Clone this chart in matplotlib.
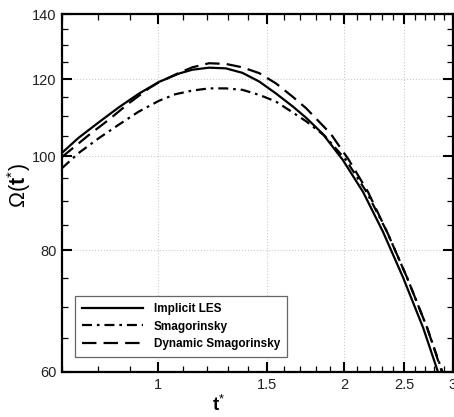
import numpy as np
import matplotlib
matplotlib.use('Agg')
import matplotlib.pyplot as plt
from matplotlib.ticker import FixedLocator, NullFormatter

plt.rcParams['font.family'] = ['Liberation Sans', 'DejaVu Sans']
plt.rcParams['mathtext.fontset'] = 'custom'
plt.rcParams['mathtext.rm'] = 'Liberation Sans'
plt.rcParams['mathtext.bf'] = 'Liberation Sans:bold'

# values (t*, Omega)
t_les = [0.70, 0.744, 0.802, 0.864, 0.931, 1.004, 1.082, 1.137, 1.210, 1.288, 1.370,
         1.459, 1.552, 1.652, 1.737, 1.848, 1.991, 2.146, 2.312, 2.492, 2.685, 2.837]
om_les = [100.8, 104.4, 108.3, 112.2, 115.9, 119.2, 121.6, 122.7, 123.3, 123.1, 121.8,
          119.3, 116.0, 112.5, 109.5, 105.4, 99.1, 91.9, 83.6, 75.0, 66.6, 60.0]

t_smag = [0.70, 0.744, 0.802, 0.864, 0.931, 1.004, 1.068, 1.137, 1.210, 1.288, 1.370,
          1.459, 1.552, 1.652, 1.737, 1.862, 2.014, 2.174, 2.347, 2.529, 2.725, 2.885]
om_smag = [97.2, 100.7, 104.3, 107.7, 111.1, 114.0, 115.8, 116.8, 117.4, 117.4, 117.0,
           115.6, 113.8, 110.9, 108.6, 104.9, 99.1, 91.9, 83.6, 75.0, 66.6, 60.0]

t_dyn = [0.70, 0.773, 0.833, 0.897, 0.967, 1.004, 1.082, 1.137, 1.210, 1.288, 1.370,
         1.459, 1.552, 1.652, 1.737, 1.904, 2.036, 2.186, 2.347, 2.529, 2.725, 2.879]
om_dyn = [99.8, 105.1, 109.0, 113.3, 117.4, 119.1, 121.8, 123.4, 124.6, 124.4, 123.4,
          121.7, 118.8, 115.1, 112.0, 105.4, 99.1, 91.9, 83.6, 75.0, 66.6, 60.0]

x_major = [1, 1.5, 2, 2.5, 3]
x_labels = ['1', '1.5', '2', '2.5', '3']
y_major = [60, 80, 100, 120, 140]

fig = plt.figure(figsize=(4.54, 4.17), dpi=100)
ax = fig.add_axes([62/454, 45/417, 391/454, 358/417])

ax.plot(t_les, om_les, color='black', lw=1.6, label='Implicit LES')
ax.plot(t_smag, om_smag, color='black', lw=1.6, dashes=(4.5, 2.2, 1.2, 2.2), label='Smagorinsky')
ax.plot(t_dyn, om_dyn, color='black', lw=1.6, dashes=(6.5, 3.2), label='Dynamic Smagorinsky')

ax.set_xscale('log')
ax.set_yscale('log')
ax.set_xlim(0.7, 3)
ax.set_ylim(60, 140)

ax.xaxis.set_major_locator(FixedLocator(x_major))
ax.set_xticklabels(x_labels)
xm = [v/10 for v in range(7, 30) if v not in (10, 15, 20, 25)]
ax.xaxis.set_minor_locator(FixedLocator(xm))
ax.xaxis.set_minor_formatter(NullFormatter())
ax.yaxis.set_major_locator(FixedLocator(y_major))
ax.set_yticklabels([str(v) for v in y_major])
ym = [v for v in range(65, 140, 5) if v not in y_major]
ax.yaxis.set_minor_locator(FixedLocator(ym))
ax.yaxis.set_minor_formatter(NullFormatter())

ax.tick_params(which='both', direction='in', top=True, right=True, colors='black',
               labelcolor='#222222', labelsize=10.5)
ax.tick_params(which='major', length=7, width=1.5, pad=4)
ax.tick_params(which='minor', length=4, width=0.9)
for s in ax.spines.values():
    s.set_linewidth(1.6)

ax.grid(True, which='major', ls=':', color='#cccccc', lw=0.8)

ax.set_xlabel(r'$\mathbf{t}^{*}$', fontsize=13.5)
ax.xaxis.set_label_coords(0.40, -0.062)
ax.set_ylabel(r'$\Omega(\mathbf{t}^{*})$', fontsize=15.5)
ax.yaxis.set_label_coords(-0.075, 0.52)

leg = ax.legend(loc='lower left', bbox_to_anchor=(0.033, 0.042), fancybox=False,
                edgecolor='#666666', framealpha=1, handlelength=5.2, handletextpad=0.9,
                labelspacing=0.45, borderpad=0.6, borderaxespad=0,
                prop={'weight': 'bold', 'size': 8.5})
leg.get_frame().set_linewidth(0.9)

fig.savefig('out.png', dpi=100)
